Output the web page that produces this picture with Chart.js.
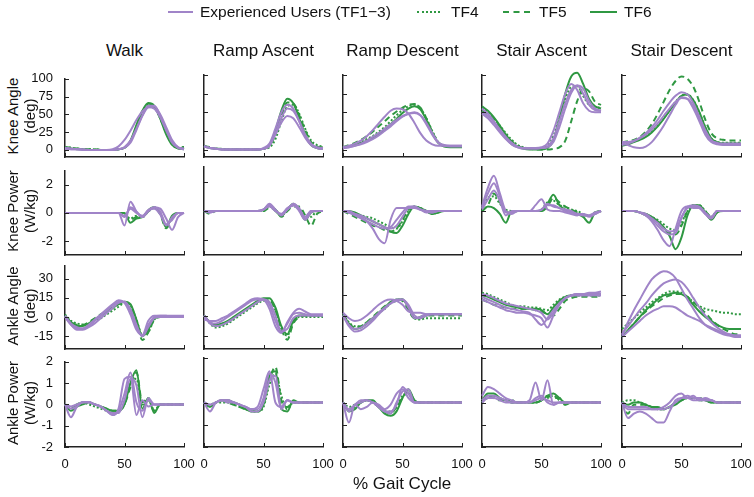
<!DOCTYPE html>
<html>
<head>
<meta charset="utf-8">
<script src="https://cdn.jsdelivr.net/npm/chart.js@4.4.1/dist/chart.umd.min.js"></script>
<style>
  body { margin: 0; background: #fff; font-family: "Liberation Sans", Arial, sans-serif; }
  #fig { position: relative; width: 754px; height: 497px; overflow: hidden; }
  canvas { position: absolute; }
  .txt { position: absolute; white-space: nowrap; color: #111; line-height: 1; }
  .swatch { position: absolute; height: 0; }
</style>
</head>
<body>
<div id="fig"></div>
<script>
// % gait cycle grid every 5 %
const gaitPct = [0, 5, 10, 15, 20, 25, 30, 35, 40, 45, 50, 55, 60, 65, 70, 75, 80, 85, 90, 95, 100]

const tasks = ['Walk', 'Ramp Ascent', 'Ramp Descent', 'Stair Ascent', 'Stair Descent']
const rowNames = [['Knee Angle', '(deg)'], ['Knee Power', '(W/kg)'], ['Ankle Angle', '(deg)'], ['Ankle Power', '(W/kg)']]
const seriesNames = ['Experienced Users (TF1\u22123)', 'TF4', 'TF5', 'TF6']
const yTickValues = [[0, 25, 50, 75, 100], [-2, 0, 2], [-15, 0, 15, 30], [-2, -1, 0, 1, 2]]
const yLimits = [[-10, 100], [-3, 3], [-25, 40], [-2, 2]]
const xTickValues = [0, 50, 100]

// each panel: [exp user 1, exp user 2, exp user 3, TF4, TF5, TF6]
const kneeAngleWalk = [
  [2,1,1,0,0,0,0,0,1,5,14,27,42,54,60,58,46,28,12,3,1],
  [3,2,1,1,0,0,0,0,0,1,4,13,30,48,60,61,50,32,14,4,2],
  [2,1,1,0,0,0,0,0,0,1,3,10,28,48,62,62,48,28,10,3,1],
  [4,3,2,1,1,1,0,0,0,1,3,12,32,52,64,60,44,24,8,3,3],
  [4,3,2,1,1,1,0,0,0,1,3,12,32,53,65,62,46,26,10,4,4],
  [3,2,1,1,0,0,0,0,0,1,3,13,35,55,66,62,44,22,7,2,1]
]
const kneeAngleRampAsc = [
  [4,2,1,0,0,0,0,0,0,0,1,6,20,36,45,42,30,16,6,2,1],
  [5,2,1,0,0,0,0,0,0,0,1,5,22,42,55,52,38,20,8,3,2],
  [4,2,1,0,0,0,0,0,0,0,2,8,28,50,60,55,38,18,6,2,1],
  [5,3,1,1,0,0,0,0,0,0,1,3,14,38,58,60,48,28,12,6,4],
  [5,3,1,1,0,0,0,0,0,0,1,5,20,45,63,62,46,26,10,4,3],
  [4,2,1,0,0,0,0,0,0,0,1,6,25,52,68,62,42,20,6,2,1]
]
const kneeAngleRampDesc = [
  [3,5,8,12,18,26,35,44,52,55,54,48,36,22,12,7,5,5,5,5,5],
  [2,3,5,8,12,17,22,28,34,40,45,48,49,46,36,22,10,6,5,5,5],
  [2,3,5,7,10,14,19,25,31,38,44,48,50,46,34,20,9,5,4,4,4],
  [2,4,7,10,14,18,24,30,38,46,53,58,60,56,42,25,10,5,4,4,4],
  [3,6,9,13,18,24,31,38,45,51,56,60,61,56,42,24,10,5,4,4,4],
  [2,4,6,9,12,16,21,27,34,41,49,55,58,54,40,22,9,4,3,3,3]
]
const kneeAngleStairAsc = [
  [55,48,38,26,15,7,3,2,2,2,3,8,25,50,75,88,80,62,52,50,50],
  [50,45,37,27,17,9,4,2,2,2,2,4,15,38,62,80,86,75,60,53,52],
  [48,42,33,23,14,7,3,1,1,1,2,3,10,30,55,76,86,82,65,55,52],
  [56,50,42,32,22,13,6,3,2,2,2,5,18,42,68,84,85,72,60,57,56],
  [52,47,40,30,20,11,5,2,1,0,0,0,1,3,12,38,65,82,78,64,60],
  [58,52,43,32,20,10,4,1,0,0,0,2,12,40,75,98,103,88,68,58,55]
]
const kneeAngleStairDesc = [
  [8,6,3,2,4,10,20,32,46,60,70,68,55,38,20,10,7,6,6,6,6],
  [10,10,12,16,22,30,40,52,63,72,77,74,62,44,26,13,9,8,8,8,8],
  [6,8,11,15,20,27,35,45,55,64,69,68,58,42,24,12,8,7,7,7,7],
  [8,9,11,14,18,24,32,42,53,64,72,74,66,50,30,15,10,9,9,9,9],
  [10,11,13,17,24,34,48,64,80,92,98,95,84,64,40,22,15,13,12,12,12],
  [5,7,10,13,17,23,31,41,52,63,72,74,66,50,30,15,10,8,8,8,8]
]

const kneePowerWalk = [
  [0,0,0,0,0,0,0,0,0,0,-0.9,0.8,0.1,-0.3,0.1,0.4,0.3,-0.4,-1.2,-0.3,0],
  [0,0,0,0,0,0,0,0,0,0,-0.3,0.4,0.1,-0.3,0.2,0.4,0.1,-0.8,-0.5,0,0],
  [0,0,0,0,0,0,0,0,0,0,-0.2,0.3,0,-0.2,0.2,0.3,-0.1,-0.9,-0.3,0,0],
  [0,0,0,0,0,0,0,0,0,0,-0.1,-0.4,-0.2,-0.3,0.1,0.4,0,-1.0,-0.3,0,0],
  [0,0,0,0,0,0,0,0,0,0,-0.1,-0.5,-0.3,-0.3,0.2,0.4,-0.1,-1.1,-0.4,0,0],
  [0,0,0,0,0,0,0,0,0,0,0,-0.7,-0.4,-0.3,0.1,0.4,0,-1.0,-0.2,0,0]
]
const kneePowerRampAsc = [
  [0,-0.1,0,0,0,0,0,0,0,0,0.1,0.5,0.1,-0.3,0.1,0.5,0.2,-0.5,0,0,0],
  [0,-0.1,0,0,0,0,0,0,0,0,0.1,0.4,0,-0.2,0.2,0.4,0,-0.6,-0.1,0,0],
  [0,0,0,0,0,0,0,0,0,0,0.1,0.3,0,-0.2,0.1,0.4,0.1,-0.4,0,0,0],
  [0,-0.1,0,0,0,0,0,0,0,0,0,0.3,0.1,-0.3,0,0.4,0.2,-0.3,-0.4,0,0],
  [0,-0.2,0,0,0,0,0,0,0,0,0,0.2,0.1,-0.4,0,0.3,0.3,-0.3,-1.0,-0.2,0],
  [0,0,0,0,0,0,0,0,0,0,0.1,0.4,0,-0.3,0.1,0.5,0.1,-0.6,-0.1,0,0]
]
const kneePowerRampDesc = [
  [0,-0.1,-0.2,-0.4,-0.7,-1.2,-1.9,-2.2,-0.6,0.2,0.2,0.2,0.2,0.1,0,0,0,0,0,0,0],
  [0,-0.1,-0.3,-0.5,-0.7,-0.9,-1.1,-1.2,-1.1,-0.6,-0.1,0.3,0.3,0.1,0,-0.1,0,0,0,0,0],
  [0,0,-0.2,-0.3,-0.5,-0.7,-0.9,-1.1,-1.2,-1.0,-0.4,0.2,0.3,0.1,-0.1,-0.1,0,0,0,0,0],
  [0,-0.1,-0.2,-0.3,-0.4,-0.5,-0.7,-0.9,-1.1,-1.2,-0.7,0,0.3,0.2,0,-0.2,0,0,0,0,0],
  [0,-0.2,-0.4,-0.6,-0.8,-1.0,-1.1,-1.3,-1.4,-1.2,-0.6,0.1,0.3,0.2,0,-0.2,-0.1,0,0,0,0],
  [0,0,-0.1,-0.3,-0.5,-0.7,-0.9,-1.1,-1.4,-1.5,-1.0,-0.2,0.3,0.2,0,-0.2,-0.1,0,0,0,0]
]
const kneePowerStairAsc = [
  [0.3,1.6,2.4,1.2,0,-0.2,0,0,0,0.4,0.8,0.1,0,0,-0.1,-0.2,-0.3,-0.2,-0.3,-0.1,0],
  [0.2,1.2,1.9,1.0,-0.1,-0.1,0,0,0,0,0.1,0.5,0.3,0.2,0,-0.1,-0.2,-0.3,-0.3,-0.2,0],
  [0.1,0.8,1.4,0.7,-0.3,0,0,0,0,0,0.1,0.4,0.4,0.2,0.1,0,-0.2,-0.2,-0.4,-0.2,0],
  [0.2,0.9,1.0,0.5,0.1,0,0,0,0,0,0.1,0.6,0.7,0.4,0.3,0.1,0,-0.2,-0.3,-0.1,0],
  [0,0.4,1.2,0.6,0,-0.1,0,0,0,0,0,0.3,0.9,0.6,0.3,0.1,-0.1,-0.3,-0.3,-0.2,0],
  [0,0.3,0.2,-0.2,-0.8,0,0,0,0,0,0,0.5,1.1,0.4,0.1,0,-0.2,-0.4,-0.8,-0.1,0]
]
const kneePowerStairDesc = [
  [0,0,0,-0.1,-0.3,-0.7,-1.3,-2.0,-2.4,-1.2,0,0.3,0.2,0.2,-0.2,-0.5,0,0,0,0,0],
  [0,0,0,-0.1,-0.3,-0.6,-1.0,-1.4,-1.6,-1.5,-0.5,0.3,0.4,0.3,-0.1,-0.4,0,0,0,0,0],
  [0,0,0,-0.1,-0.2,-0.5,-0.8,-1.2,-1.4,-1.3,-0.4,0.2,0.3,0.2,-0.2,-0.5,0,0,0,0,0],
  [0,0,0,-0.1,-0.2,-0.4,-0.6,-0.9,-1.2,-1.3,-0.8,0,0.4,0.4,0,-0.4,0,0,0,0,0],
  [0,0,0,-0.1,-0.3,-0.5,-0.8,-1.2,-1.5,-1.6,-1.0,0,0.4,0.3,0,-0.4,-0.1,0,0,0,0],
  [0,0,0,-0.1,-0.2,-0.4,-0.7,-1.1,-1.7,-2.6,-1.8,-0.3,0.4,0.4,-0.1,-0.6,-0.1,0,0,0,0]
]

const ankleAngleWalk = [
  [0,-6,-9,-9,-6,-2,2,6,10,13,11,2,-10,-14,-3,1,1,1,1,1,1],
  [1,-5,-8,-9,-7,-3,1,5,9,12,12,5,-8,-15,-6,0,1,1,0,0,0],
  [0,-6,-10,-10,-8,-5,-1,3,7,11,12,6,-6,-15,-8,-1,0,0,0,0,0],
  [2,-3,-5,-6,-5,-3,-1,2,5,8,11,9,-2,-14,-12,-2,0,0,0,0,0],
  [1,-4,-6,-6,-4,-1,2,5,8,10,12,9,-3,-18,-12,-2,0,0,0,0,0],
  [1,-4,-7,-7,-5,-2,1,4,7,10,12,10,-2,-15,-10,-1,0,0,0,0,0]
]
const ankleAngleRampAsc = [
  [-3,-4,-4,-2,0,3,6,9,12,13,12,5,-8,-13,-5,2,5,3,1,1,1],
  [0,-5,-6,-4,-1,2,5,8,11,12,12,8,-4,-12,-6,1,2,1,0,0,0],
  [0,-6,-8,-7,-5,-2,1,4,7,10,12,10,0,-12,-10,-2,0,0,0,0,0],
  [0,-6,-9,-8,-6,-3,0,3,6,9,11,11,4,-10,-15,-5,-1,-1,-1,-1,-1],
  [0,-5,-8,-7,-5,-2,1,4,7,10,12,12,4,-10,-18,-6,-1,0,0,0,0],
  [0,-5,-7,-6,-4,-1,2,5,8,11,13,13,6,-8,-14,-4,0,0,0,0,0]
]
const ankleAngleRampDesc = [
  [2,-2,-4,-3,0,4,8,11,12,11,8,3,2,2,1,1,1,1,1,1,1],
  [0,-7,-10,-9,-6,-2,2,6,9,11,12,8,0,-2,0,1,1,1,1,1,1],
  [0,-8,-12,-11,-8,-4,1,5,9,12,12,6,-2,-1,1,1,1,1,1,1,1],
  [1,-5,-8,-8,-5,-2,2,5,9,11,12,6,-2,-3,-2,-2,-2,-2,-2,-2,-2],
  [0,-6,-9,-8,-5,-1,3,7,10,12,11,4,-2,-1,0,0,0,0,0,0,0],
  [1,-6,-10,-9,-6,-2,2,6,10,12,12,6,-2,-2,0,1,1,1,1,1,1]
]
const ankleAngleStairAsc = [
  [14,12,10,8,6,5,4,3,2,-3,-7,-2,4,9,13,15,16,16,17,17,18],
  [12,10,8,6,4,3,2,2,1,0,-2,-9,0,8,13,15,16,16,16,16,16],
  [16,15,13,11,9,8,7,6,5,4,2,-3,2,9,13,15,15,15,15,15,15],
  [17,16,14,12,10,8,7,7,6,6,5,4,8,12,14,15,15,15,15,15,15],
  [12,10,8,7,6,5,5,5,5,4,3,1,0,5,11,13,14,14,14,14,14],
  [15,14,12,10,8,7,6,5,5,5,4,1,6,11,14,15,15,16,16,16,16]
]
const ankleAngleStairDesc = [
  [-15,-5,4,12,20,27,31,33,32,28,20,12,5,-2,-7,-10,-12,-14,-15,-16,-16],
  [-14,-8,-2,4,9,15,20,24,26,27,25,20,13,6,0,-5,-9,-12,-14,-15,-15],
  [-16,-12,-8,-4,0,3,5,7,7,6,3,0,-2,-4,-7,-9,-11,-13,-14,-15,-15],
  [-10,-6,-2,2,6,10,13,16,18,18,17,14,10,7,5,4,3,2,2,1,1],
  [-16,-11,-6,-1,3,7,10,13,15,16,16,14,10,6,2,-3,-7,-10,-12,-14,-14],
  [-16,-11,-6,-1,4,8,12,15,16,17,16,13,8,3,-1,-4,-7,-9,-10,-10,-10]
]

const anklePowerWalk = [
  [0,-0.6,-0.1,0.1,0.1,0,-0.1,-0.3,-0.5,-0.2,1.2,1.3,-0.5,0.2,-0.1,0,0,0,0,0,0],
  [0,-0.2,-0.1,0.1,0.1,0,-0.1,-0.3,-0.5,-0.3,0.5,1.5,0.1,-0.3,0.2,0,0,0,0,0,0],
  [0,-0.1,0,0.1,0.1,0,-0.1,-0.3,-0.4,-0.4,0.2,1.2,0.9,-0.6,0.3,0,0,0,0,0,0],
  [0,-0.2,0,0.1,0,-0.1,-0.2,-0.3,-0.4,-0.3,0,1.0,1.2,0,0.2,-0.3,0,0,0,0,0],
  [0,-0.2,0,0.1,0.1,0,-0.1,-0.2,-0.3,-0.3,0,0.8,1.5,0.1,0.3,-0.3,0,0,0,0,0],
  [0,-0.3,-0.1,0,0.1,0,-0.1,-0.2,-0.3,-0.3,0,1.0,1.6,-0.2,0.3,-0.4,0,0,0,0,0]
]
const anklePowerRampAsc = [
  [0,-0.4,0,0.1,0.1,0,-0.1,-0.2,-0.3,-0.2,0.6,1.4,0,-0.2,0.1,0,0,0,0,0,0],
  [0,-0.1,0,0.1,0.1,0,-0.1,-0.2,-0.3,-0.3,0.2,1.3,0.9,-0.3,0.1,0,0,0,0,0,0],
  [0,-0.1,0,0.1,0,0,-0.1,-0.2,-0.4,-0.4,0,1.0,1.2,-0.2,0.1,0,0,0,0,0,0],
  [0,-0.1,0,0,0,-0.1,-0.2,-0.3,-0.4,-0.4,-0.2,0.8,1.3,0.3,-0.3,0,0,0,0,0,0],
  [0,-0.2,0,0.1,0,-0.1,-0.2,-0.3,-0.3,-0.4,-0.1,1.0,1.6,0.1,-0.2,0,0,0,0,0,0],
  [0,-0.2,0,0.1,0.1,0,-0.1,-0.3,-0.4,-0.4,-0.1,1.2,1.4,-0.3,-0.4,0.1,0,0,0,0,0]
]
const anklePowerRampDesc = [
  [0,-0.9,-0.1,-0.3,-0.2,0,-0.1,-0.3,-0.1,0.4,0.6,0.2,0,0,0,0,0,0,0,0,0],
  [0,-0.3,-0.1,0.1,0.1,0,-0.2,-0.4,-0.4,-0.1,0.7,0.4,0,0,0,0,0,0,0,0,0],
  [0,-0.4,-0.1,0,0.1,0,-0.2,-0.4,-0.5,0,0.5,0.6,0,0,0,0,0,0,0,0,0],
  [0,-0.2,-0.1,0,0.1,0,-0.2,-0.4,-0.4,-0.2,0.3,0.4,0,0,0,0,0,0,0,0,0],
  [0,-0.3,-0.2,0,0.1,0,-0.2,-0.4,-0.5,-0.2,0.2,0.5,0.1,0,0,0,0,0,0,0,0],
  [0,-0.4,-0.3,0,0.1,0.1,-0.2,-0.5,-0.6,-0.4,0.2,0.6,0.1,0,0,0,0,0,0,0,0]
]
const anklePowerStairAsc = [
  [0.3,0.7,0.6,0.4,0.2,0.1,0,0,0,0.2,0.3,0,-0.1,0,0,0,0,0,0,0,0],
  [0.1,0.3,0.3,0.2,0.1,0,0,0,0.1,0.9,0.1,1.0,-0.1,0,0,0,0,0,0,0,0],
  [0,0.2,0.2,0.1,0,0,0,0,0,0.1,0.2,0.1,0,0,0,0,0,0,0,0,0],
  [0.1,0.2,0.3,0.2,0.1,0.1,0,0,0,0,0.1,0.2,0.3,0.1,-0.1,0,0,0,0,0,0],
  [0,0.3,0.2,0.1,0.1,0,0,0,0,0,0.1,0.3,0.2,0.2,-0.1,0,0,0,0,0,0],
  [0.1,0.4,0.4,0.2,0.1,0,0,0,0,0,0.1,0.3,0.4,0.2,0,0,0,0,0,0,0]
]
const anklePowerStairDesc = [
  [0,-0.7,-0.5,-0.4,-0.5,-0.7,-0.9,-0.9,-0.4,0.1,0.2,0.2,0.1,0.1,0.2,0.1,0,0,0,0,0],
  [0,-0.2,-0.2,-0.2,-0.2,-0.3,-0.3,-0.2,0,0.3,0.4,0.2,0.3,0.1,0.1,0.1,0,0,0,0,0],
  [0,-0.3,-0.3,-0.3,-0.3,-0.3,-0.3,-0.3,-0.2,0,0.2,0.3,0.2,0.2,0.1,0.1,0,0,0,0,0],
  [0,0.1,0.1,0,-0.1,-0.2,-0.3,-0.3,-0.2,0,0.1,0.2,0.2,0.1,0.1,0,0,0,0,0,0],
  [0,-0.5,-0.1,-0.1,-0.1,-0.2,-0.3,-0.3,-0.2,0,0.1,0.2,0.2,0.1,0.1,0,0,0,0,0,0],
  [0,-0.1,0,0,-0.1,-0.2,-0.2,-0.3,-0.2,-0.1,0.1,0.2,0.2,0.2,0.1,0,0,0,0,0,0]
]

const panels = [
  [kneeAngleWalk, kneeAngleRampAsc, kneeAngleRampDesc, kneeAngleStairAsc, kneeAngleStairDesc],
  [kneePowerWalk, kneePowerRampAsc, kneePowerRampDesc, kneePowerStairAsc, kneePowerStairDesc],
  [ankleAngleWalk, ankleAngleRampAsc, ankleAngleRampDesc, ankleAngleStairAsc, ankleAngleStairDesc],
  [anklePowerWalk, anklePowerRampAsc, anklePowerRampDesc, anklePowerStairAsc, anklePowerStairDesc]
]

// layout of the plot areas (page pixels)
const colLeft = [65, 204, 343, 482, 622]
const plotW = 119
const rowTop = [75, 167, 262, 358]
const rowBottom = [157, 255, 349, 447]
const PURPLE = '#a084c8'
const GREEN = '#2f9842'
const AXIS = '#222'
const fontFamily = '"Liberation Sans", Arial, sans-serif'

const fig = document.getElementById('fig')

function addText(str, x, y, size, opts = {}) {
  const d = document.createElement('div')
  d.className = 'txt'
  d.textContent = str
  d.style.fontSize = size + 'px'
  d.style.left = x + 'px'
  d.style.top = y + 'px'
  d.style.transform = 'translate(' + (opts.ax ?? -50) + '%, -50%)' + (opts.rotate ? ' rotate(-90deg)' : '')
  fig.appendChild(d)
  return d
}

// inward MATLAB-like tick marks
const inwardTicks = {
  id: 'inwardTicks',
  afterDraw(chart) {
    const { ctx, chartArea, scales } = chart
    ctx.save()
    ctx.strokeStyle = AXIS
    ctx.lineWidth = 1
    ctx.beginPath()
    scales.y.ticks.forEach(t => {
      const py = Math.round(scales.y.getPixelForValue(t.value)) + 0.5
      ctx.moveTo(chartArea.left, py)
      ctx.lineTo(chartArea.left + 4, py)
    })
    scales.x.ticks.forEach(t => {
      const px = Math.round(scales.x.getPixelForValue(t.value)) + 0.5
      ctx.moveTo(px, chartArea.bottom)
      ctx.lineTo(px, chartArea.bottom - 4)
    })
    ctx.stroke()
    ctx.restore()
  }
}

const PAD_L = 34, PAD_T = 8, PAD_R = 14, PAD_B = 22

function makePanel(r, c) {
  const series = panels[r][c]
  const h = rowBottom[r] - rowTop[r]
  const canvas = document.createElement('canvas')
  canvas.width = plotW + PAD_L + PAD_R
  canvas.height = h + PAD_T + PAD_B
  canvas.style.left = (colLeft[c] - PAD_L) + 'px'
  canvas.style.top = (rowTop[r] - PAD_T) + 'px'
  fig.appendChild(canvas)

  const styles = [
    { color: PURPLE, dash: [] },
    { color: PURPLE, dash: [] },
    { color: PURPLE, dash: [] },
    { color: GREEN, dash: [2, 2] },
    { color: GREEN, dash: [6, 4] },
    { color: GREEN, dash: [] }
  ]

  const datasets = series.map((vals, i) => ({
    data: vals.map((v, k) => ({ x: gaitPct[k], y: v })),
    borderColor: styles[i].color,
    borderDash: styles[i].dash,
    borderWidth: 2,
    pointRadius: 0,
    cubicInterpolationMode: 'monotone',
    fill: false,
    clip: false
  }))

  new Chart(canvas.getContext('2d'), {
    type: 'line',
    data: { datasets },
    plugins: [inwardTicks],
    options: {
      responsive: false,
      animation: false,
      devicePixelRatio: 1,
      layout: { padding: { left: 0, top: PAD_T, right: PAD_R, bottom: 0 } },
      plugins: { legend: { display: false }, tooltip: { enabled: false } },
      scales: {
        x: {
          type: 'linear',
          min: 0,
          max: 100,
          grid: { display: false },
          border: { display: true, color: AXIS, width: 1.5 },
          afterBuildTicks: s => { s.ticks = xTickValues.map(v => ({ value: v })) },
          afterFit: s => { s.height = PAD_B },
          ticks: {
            display: r === 3,
            color: '#111',
            padding: 2,
            maxRotation: 0,
            font: { family: fontFamily, size: 13 }
          }
        },
        y: {
          type: 'linear',
          min: yLimits[r][0],
          max: yLimits[r][1],
          grid: { display: false },
          border: { display: true, color: AXIS, width: 1.5 },
          afterBuildTicks: s => { s.ticks = yTickValues[r].map(v => ({ value: v })) },
          afterFit: s => { s.width = PAD_L },
          ticks: {
            display: c === 0,
            color: '#111',
            padding: 4,
            font: { family: fontFamily, size: 13 }
          }
        }
      }
    }
  })
}

for (let r = 0; r < 4; r++) {
  for (let c = 0; c < 5; c++) makePanel(r, c)
}

// column titles
tasks.forEach((t, c) => addText(t, colLeft[c] + plotW / 2, 50, 17))

// row labels
rowNames.forEach((pair, r) => {
  const cy = (rowTop[r] + rowBottom[r]) / 2
  addText(pair[0], 12, cy, 15, { rotate: true })
  addText(pair[1], 29, cy, 15, { rotate: true })
})

// x axis title
addText('% Gait Cycle', 402, 483, 17)

// legend
const legendItems = [
  { x: 168, w: 25, tx: 200, text: seriesNames[0], color: PURPLE, style: 'solid', lw: 2 },
  { x: 417, w: 23, tx: 451, text: seriesNames[1], color: GREEN, style: 'dotted', lw: 2 },
  { x: 503, w: 27, tx: 539, text: seriesNames[2], color: GREEN, style: 'dashed', lw: 2 },
  { x: 590, w: 27, tx: 624, text: seriesNames[3], color: GREEN, style: 'solid', lw: 2 }
]
legendItems.forEach(it => {
  const sw = document.createElement('div')
  sw.className = 'swatch'
  sw.style.left = it.x + 'px'
  sw.style.width = it.w + 'px'
  sw.style.top = (12 - it.lw / 2) + 'px'
  sw.style.borderTop = it.lw + 'px ' + it.style + ' ' + it.color
  fig.appendChild(sw)
  addText(it.text, it.tx, 12, 15.5, { ax: 0 })
})
</script>
</body>
</html>
